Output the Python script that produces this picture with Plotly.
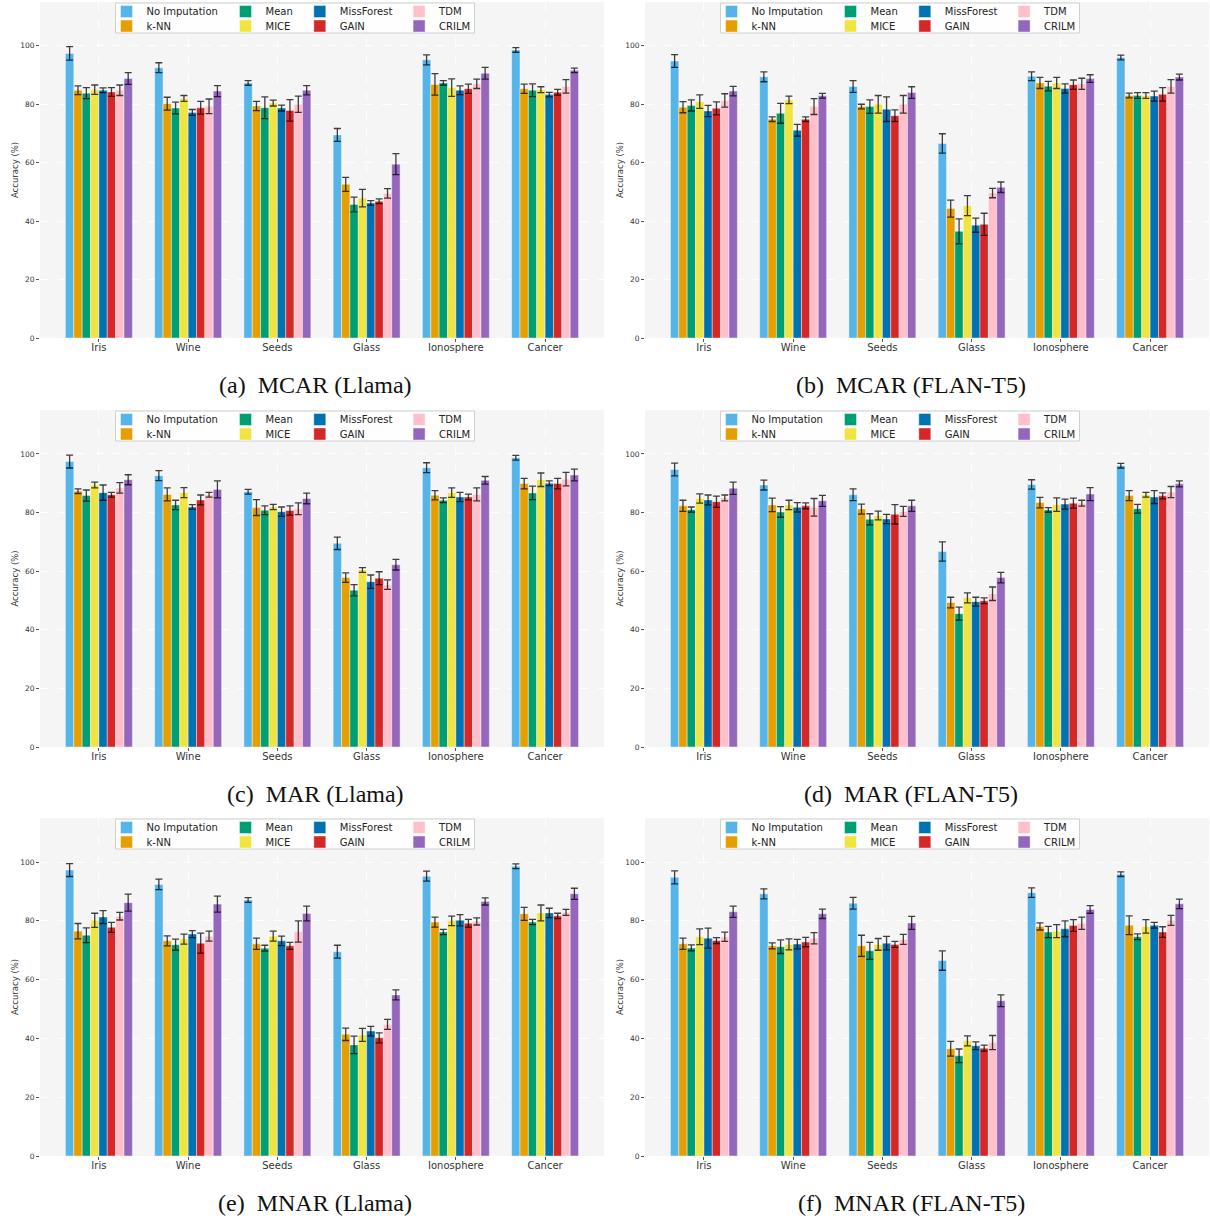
import plotly.graph_objects as go

W, H = 1210, 1220

datasets = ["Iris", "Wine", "Seeds", "Glass", "Ionosphere", "Cancer"]
methods = ["No Imputation", "k-NN", "Mean", "MICE", "MissForest", "GAIN", "TDM", "CRILM"]
colors = ["#56B4E9", "#E69F00", "#009E73", "#F0E442", "#0072B2", "#D62728", "#FFC0CB", "#9467BD"]
y_ticks = [0, 20, 40, 60, 80, 100]
captions = ["(a)\u2002MCAR (Llama)", "(b)\u2002MCAR (FLAN-T5)", "(c)\u2002MAR (Llama)",
            "(d)\u2002MAR (FLAN-T5)", "(e)\u2002MNAR (Llama)", "(f)\u2002MNAR (FLAN-T5)"]

# rows: datasets, columns: methods
mcar_llama = [
    [97.4, 84.8, 83.8, 85.0, 84.8, 84.2, 84.8, 88.8],
    [92.5, 80.2, 78.7, 82.0, 77.2, 78.8, 79.3, 84.5],
    [87.3, 79.4, 78.8, 80.4, 78.7, 77.9, 80.0, 84.8],
    [69.5, 52.6, 45.7, 47.9, 46.2, 46.8, 49.5, 59.5],
    [95.2, 86.8, 87.3, 85.7, 84.8, 85.3, 87.0, 90.6],
    [98.6, 85.3, 84.8, 85.0, 83.3, 84.1, 86.1, 91.6],
]
mcar_llama_err = [
    [2.3, 1.5, 1.9, 1.6, 0.8, 1.5, 1.8, 2.0],
    [1.7, 2.2, 2.0, 1.0, 1.0, 2.2, 2.5, 1.9],
    [0.8, 1.6, 3.7, 1.0, 1.0, 3.7, 2.8, 1.6],
    [2.2, 2.4, 2.5, 3.0, 0.8, 0.8, 1.6, 3.6],
    [1.7, 3.7, 0.8, 3.0, 1.5, 1.6, 1.6, 2.0],
    [0.8, 1.6, 2.2, 1.0, 0.8, 1.0, 2.3, 0.8],
]
mcar_flan = [
    [94.8, 79.0, 79.6, 80.9, 77.7, 78.6, 81.3, 84.5],
    [89.4, 74.9, 76.9, 81.5, 71.1, 74.9, 79.2, 82.9],
    [86.1, 79.2, 79.2, 80.0, 78.3, 76.1, 80.0, 84.0],
    [66.6, 44.3, 36.5, 45.3, 38.6, 38.9, 49.6, 51.6],
    [89.6, 87.3, 86.2, 87.3, 85.4, 86.7, 87.0, 88.8],
    [96.0, 83.0, 83.0, 83.0, 82.8, 83.4, 86.1, 89.3],
]
mcar_flan_err = [
    [2.2, 1.9, 1.9, 2.3, 1.9, 2.2, 2.3, 1.6],
    [1.7, 0.8, 3.4, 1.3, 2.0, 0.8, 2.7, 0.8],
    [2.0, 0.8, 2.3, 3.0, 4.2, 2.0, 3.0, 2.0],
    [3.3, 2.9, 4.3, 3.4, 2.4, 3.8, 1.6, 1.8],
    [1.5, 1.9, 1.6, 1.9, 1.6, 1.6, 1.9, 1.3],
    [0.8, 0.8, 1.0, 1.0, 1.7, 2.3, 2.3, 1.0],
]
mar_llama = [
    [97.4, 87.3, 85.8, 89.4, 86.8, 86.1, 88.4, 91.2],
    [92.6, 86.2, 82.6, 86.8, 81.9, 84.3, 86.1, 87.9],
    [87.1, 81.7, 80.8, 81.9, 80.3, 80.7, 81.3, 84.8],
    [69.5, 57.8, 53.5, 60.4, 56.4, 57.6, 55.4, 62.2],
    [95.3, 85.9, 84.2, 86.8, 85.3, 85.3, 86.2, 91.0],
    [98.7, 89.9, 86.7, 91.2, 90.0, 89.9, 91.4, 92.8],
]
mar_llama_err = [
    [2.2, 0.8, 1.9, 1.0, 2.6, 0.8, 1.8, 1.7],
    [1.7, 2.2, 1.6, 1.7, 0.8, 1.7, 0.8, 2.9],
    [0.8, 2.7, 1.5, 0.9, 1.6, 1.6, 2.0, 1.8],
    [2.1, 1.6, 1.9, 0.8, 2.3, 2.2, 1.6, 1.8],
    [1.7, 1.6, 0.8, 1.6, 1.6, 1.0, 2.2, 1.3],
    [0.8, 1.8, 2.3, 2.3, 0.8, 1.8, 2.3, 2.0],
]
mar_flan = [
    [94.7, 82.3, 81.0, 84.8, 84.3, 83.7, 85.0, 88.3],
    [89.4, 82.6, 80.2, 82.6, 81.8, 82.3, 81.8, 84.0],
    [86.1, 81.2, 77.7, 79.0, 77.8, 79.4, 80.4, 82.3],
    [66.7, 49.3, 45.5, 50.9, 49.6, 49.9, 52.3, 57.8],
    [89.6, 83.4, 80.9, 82.7, 82.9, 83.2, 83.2, 86.3],
    [96.0, 85.8, 81.3, 86.1, 85.3, 85.7, 87.0, 89.8],
]
mar_flan_err = [
    [2.2, 1.9, 0.9, 1.6, 1.7, 1.9, 1.0, 2.1],
    [1.7, 2.3, 1.8, 1.6, 1.6, 1.0, 3.0, 1.9],
    [2.0, 1.7, 1.9, 1.5, 1.6, 3.3, 1.7, 1.9],
    [3.3, 1.8, 2.2, 1.7, 1.5, 1.0, 2.3, 1.8],
    [1.6, 1.8, 0.8, 2.3, 1.7, 1.7, 1.0, 2.2],
    [0.8, 1.7, 1.5, 0.8, 2.2, 1.0, 1.9, 1.0],
]
mnar_llama = [
    [97.3, 76.5, 75.1, 80.2, 81.3, 77.8, 81.6, 86.2],
    [92.4, 73.2, 71.9, 73.8, 75.5, 72.4, 74.8, 85.7],
    [87.1, 72.2, 70.7, 74.8, 73.2, 71.5, 76.4, 82.5],
    [69.5, 41.4, 37.8, 41.2, 42.5, 40.2, 44.8, 54.8],
    [95.2, 79.6, 76.2, 80.0, 80.2, 79.2, 79.8, 86.6],
    [98.6, 82.4, 79.6, 82.7, 82.7, 81.7, 82.9, 89.2],
]
mnar_llama_err = [
    [2.2, 2.6, 2.5, 2.4, 2.2, 1.7, 1.3, 2.9],
    [1.8, 1.7, 1.9, 1.7, 1.2, 3.4, 1.7, 2.7],
    [0.8, 1.9, 1.0, 1.7, 1.6, 1.2, 3.6, 2.5],
    [2.2, 2.1, 3.0, 2.2, 1.6, 1.7, 1.7, 1.7],
    [1.7, 1.7, 0.9, 1.6, 1.9, 1.3, 1.2, 1.2],
    [0.8, 2.2, 0.9, 2.7, 1.6, 0.9, 1.0, 1.9],
]
mnar_flan = [
    [94.8, 72.2, 70.8, 74.6, 74.1, 73.3, 74.6, 83.1],
    [89.2, 71.5, 71.2, 72.0, 72.1, 72.8, 74.1, 82.4],
    [86.0, 71.5, 69.8, 72.0, 72.4, 72.0, 73.7, 79.3],
    [66.5, 36.5, 34.1, 39.2, 37.5, 36.7, 38.6, 52.8],
    [89.6, 78.1, 76.2, 76.5, 77.3, 78.4, 79.2, 83.9],
    [95.9, 78.5, 74.6, 78.1, 78.5, 76.2, 80.2, 85.8],
]
mnar_flan_err = [
    [2.2, 1.9, 1.0, 2.7, 3.4, 1.0, 1.6, 1.9],
    [1.7, 1.0, 2.3, 1.9, 1.6, 1.6, 1.9, 1.6],
    [2.0, 3.6, 2.9, 2.0, 2.3, 1.0, 1.7, 2.2],
    [3.3, 2.5, 2.3, 1.7, 1.3, 1.0, 2.4, 2.0],
    [1.6, 1.2, 1.9, 2.2, 2.7, 2.0, 2.1, 1.3],
    [0.8, 3.2, 1.0, 2.3, 1.0, 1.8, 1.7, 1.6],
]

panels = [
    (mcar_llama, mcar_llama_err), (mcar_flan, mcar_flan_err),
    (mar_llama, mar_llama_err), (mar_flan, mar_flan_err),
    (mnar_llama, mnar_llama_err), (mnar_flan, mnar_flan_err),
]

# panel plot-area geometry in pixels (left, right, top, bottom)
col_px = [(40, 604), (645, 1209)]
row_px = [(2, 338), (410, 747), (818, 1156)]

FONT = "DejaVu Sans"
fig = go.Figure()
layout = dict(
    width=W, height=H, margin=dict(l=0, r=0, t=0, b=0, autoexpand=False),
    paper_bgcolor="white", plot_bgcolor="#f5f5f5",
    barmode="group", bargap=0.25, bargroupgap=0.0,
    font=dict(family=FONT, color="#333333"),
    shapes=[], annotations=[],
)

# legend item offsets inside the legend box (text x offset, row center y offset)
leg_text_dx = [31, 150, 224.3, 323.6]
leg_row_dy = [8.5, 23]
box_dx, box_dy, box_w, box_h = 75.5, 1.0, 359, 30

for p, (vals, errs) in enumerate(panels):
    r, c = divmod(p, 2)
    L, R = col_px[c]
    T, B = row_px[r]
    k = p + 1
    xa = "x" if k == 1 else f"x{k}"
    ya = "y" if k == 1 else f"y{k}"
    layout["xaxis" if k == 1 else f"xaxis{k}"] = dict(
        domain=[L / W, R / W], anchor=ya, type="category", automargin=False,
        range=[-0.66, 5.66], showgrid=True, gridcolor="rgba(255,255,255,0.9)", griddash="dash", gridwidth=1,
        ticks="outside", ticklen=3, tickcolor="#555555", showline=False, zeroline=False,
        ticklabelstandoff=-3,
        tickfont=dict(size=10, family=FONT, color="#333333"), fixedrange=True,
    )
    layout["yaxis" if k == 1 else f"yaxis{k}"] = dict(
        domain=[1 - B / H, 1 - T / H], anchor=xa, range=[0, 115], automargin=False,
        tickvals=y_ticks, showgrid=True, gridcolor="rgba(255,255,255,0.9)", griddash="dash", gridwidth=1,
        ticks="outside", ticklen=3, tickcolor="#555555", showline=False, zeroline=False,
        tickfont=dict(size=7.5, family=FONT, color="#333333"),
        title=dict(text="Accuracy (%)", font=dict(size=8.5, family=FONT, color="#333333"), standoff=0),
        fixedrange=True,
    )
    # legend box
    bx0 = L + box_dx
    by0 = T + box_dy
    layout["shapes"].append(dict(
        type="rect", xref="paper", yref="paper", layer="above",
        x0=bx0 / W, x1=(bx0 + box_w) / W, y0=1 - (by0 + box_h) / H, y1=1 - by0 / H,
        fillcolor="rgba(255,255,255,0.85)", line=dict(color="#d0d0d0", width=1),
    ))
    for m, name in enumerate(methods):
        lid_n = p * 8 + m + 1
        lid = "legend" if lid_n == 1 else f"legend{lid_n}"
        colm, rowm = divmod(m, 2)
        lx = bx0 + leg_text_dx[colm] - 40
        ly = by0 + leg_row_dy[rowm]
        layout[lid] = dict(
            x=lx / W, y=1 - ly / H, xanchor="left", yanchor="middle",
            bgcolor="rgba(0,0,0,0)", borderwidth=0,
            font=dict(size=10, family=FONT, color="#222222"),
        )
        fig.add_trace(go.Bar(
            x=datasets, y=[row[m] for row in vals], name=name,
            marker=dict(color=colors[m], line=dict(color="rgba(255,255,255,0.7)", width=0.6)),
            error_y=dict(type="data", array=[row[m] for row in errs],
                         color="rgba(0,0,0,0.75)", thickness=1.3, width=3.5),
            xaxis=xa, yaxis=ya, legend=lid, showlegend=True,
            offsetgroup=str(m),
        ))
    # caption
    layout["annotations"].append(dict(
        text=captions[p], xref="paper", yref="paper", showarrow=False,
        x=((L + R) / 2 - (7 if c == 0 else 16)) / W, y=1 - (B + 47) / H,
        xanchor="center", yanchor="middle",
        font=dict(family="Liberation Serif", size=24, color="#111111"),
    ))

fig.update_layout(**layout)
post = (
    "document.documentElement.style.margin='0px';"
    "document.body.style.margin='0px';"
    "document.body.style.overflow='hidden';"
    "document.documentElement.style.overflow='hidden';"
    "var gd=document.getElementsByClassName('plotly-graph-div')[0];"
    "gd.style.position='fixed';gd.style.top='0px';gd.style.left='0px';"
)
fig.write_html("out.html", config={"displayModeBar": False}, post_script=post)
